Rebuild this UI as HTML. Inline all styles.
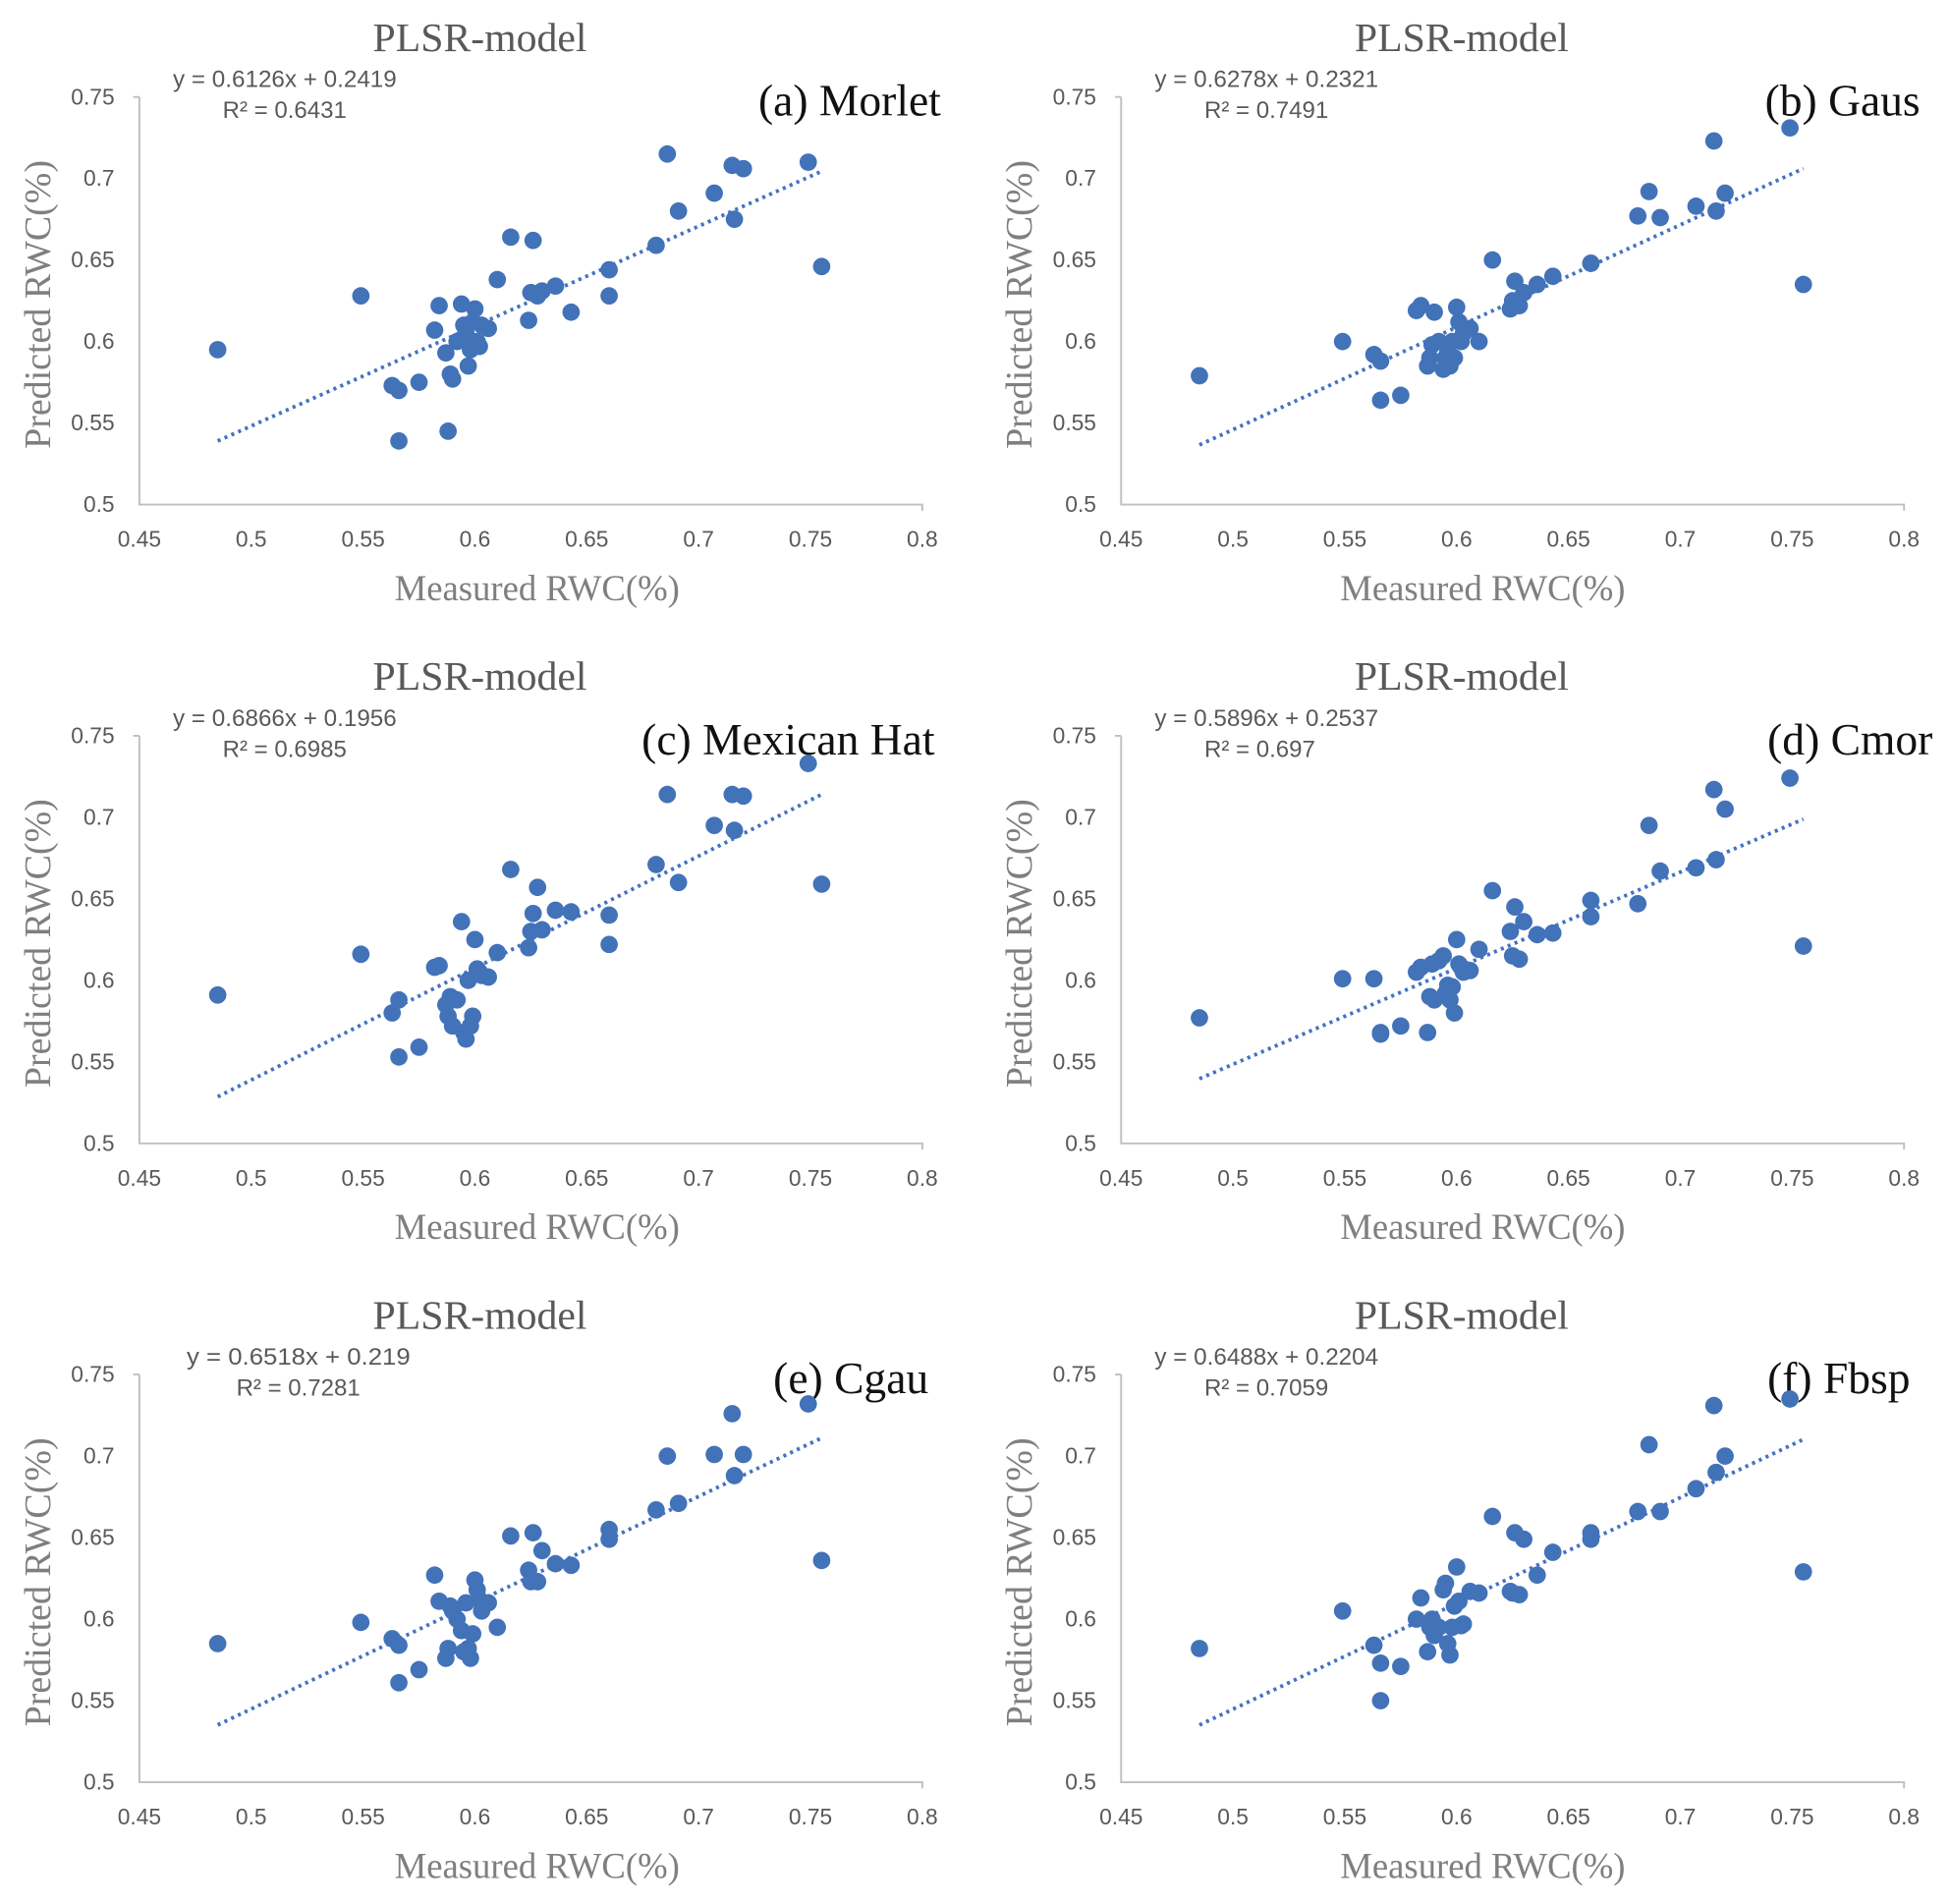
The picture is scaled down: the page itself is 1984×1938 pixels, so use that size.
<!DOCTYPE html>
<html><head><meta charset="utf-8"><style>
html,body{margin:0;padding:0;background:#fff;}
svg{display:block;}
</style></head><body>
<svg id="chart" width="1984" height="1938" viewBox="0 0 1568 1532" xmlns="http://www.w3.org/2000/svg"></svg>
<script>
const measuredX = [0.485,0.549,0.563,0.566,0.566,0.575,0.582,0.584,0.587,0.588,0.589,0.590,0.592,0.594,0.595,0.596,0.597,0.598,0.599,0.600,0.601,0.602,0.603,0.606,0.610,0.616,0.624,0.625,0.626,0.628,0.630,0.636,0.643,0.660,0.660,0.681,0.686,0.691,0.707,0.715,0.716,0.720,0.749,0.755];
const predMorlet = [0.595,0.628,0.573,0.570,0.539,0.575,0.607,0.622,0.593,0.545,0.580,0.577,0.600,0.623,0.610,0.605,0.585,0.595,0.612,0.620,0.600,0.597,0.610,0.608,0.638,0.664,0.613,0.630,0.662,0.628,0.631,0.634,0.618,0.644,0.628,0.659,0.715,0.680,0.691,0.708,0.675,0.706,0.710,0.646];
const predGaus = [0.579,0.600,0.592,0.588,0.564,0.567,0.619,0.622,0.585,0.590,0.598,0.618,0.600,0.583,0.590,0.593,0.585,0.600,0.590,0.621,0.612,0.600,0.605,0.608,0.600,0.650,0.620,0.625,0.637,0.622,0.630,0.635,0.640,0.648,0.648,0.677,0.692,0.676,0.683,0.723,0.680,0.691,0.731,0.635];
const predMexHat = [0.591,0.616,0.580,0.588,0.553,0.559,0.608,0.609,0.585,0.578,0.590,0.572,0.588,0.636,0.568,0.564,0.600,0.572,0.578,0.625,0.607,0.605,0.603,0.602,0.617,0.668,0.620,0.630,0.641,0.657,0.631,0.643,0.642,0.640,0.622,0.671,0.714,0.660,0.695,0.714,0.692,0.713,0.733,0.659];
const predCmor = [0.577,0.601,0.601,0.568,0.567,0.572,0.605,0.608,0.568,0.590,0.610,0.588,0.612,0.615,0.592,0.597,0.588,0.596,0.580,0.625,0.610,0.608,0.605,0.606,0.619,0.655,0.630,0.615,0.645,0.613,0.636,0.628,0.629,0.649,0.639,0.647,0.695,0.667,0.669,0.717,0.674,0.705,0.724,0.621];
const predCgau = [0.585,0.598,0.588,0.584,0.561,0.569,0.627,0.611,0.576,0.582,0.608,0.605,0.600,0.593,0.580,0.610,0.582,0.576,0.591,0.624,0.618,0.612,0.605,0.610,0.595,0.651,0.630,0.623,0.653,0.623,0.642,0.634,0.633,0.655,0.649,0.667,0.700,0.671,0.701,0.726,0.688,0.701,0.732,0.636];
const predFbsp = [0.582,0.605,0.584,0.573,0.550,0.571,0.600,0.613,0.580,0.595,0.600,0.590,0.595,0.618,0.622,0.585,0.578,0.595,0.608,0.632,0.611,0.596,0.597,0.617,0.616,0.663,0.617,0.616,0.653,0.615,0.649,0.627,0.641,0.653,0.649,0.666,0.707,0.666,0.680,0.731,0.690,0.700,0.735,0.629];
const panelLabels = ["(a) Morlet","(b) Gaus","(c) Mexican Hat","(d) Cmor","(e) Cgau","(f) Fbsp"];
const slopes = [0.6126,0.6278,0.6866,0.5896,0.6518,0.6488];
const intercepts = [0.2419,0.2321,0.1956,0.2537,0.219,0.2204];
const r2Labels = ["0.6431","0.7491","0.6985","0.697","0.7281","0.7059"];
const xTicks = [0.45,0.5,0.55,0.6,0.65,0.7,0.75,0.8];
const yTicks = [0.5,0.55,0.6,0.65,0.7,0.75];
const preds = [predMorlet,predGaus,predMexHat,predCmor,predCgau,predFbsp];

const NS="http://www.w3.org/2000/svg";
const svg=document.getElementById('chart');
function mk(tag,attrs,parent){const e=document.createElementNS(NS,tag);for(const k in attrs)e.setAttribute(k,attrs[k]);(parent||svg).appendChild(e);return e;}
const W=630,H=328;
const origins=[[112,406],[902,406],[112,920],[902,920],[112,1434],[902,1434]];
const labelRight=[757,1545,752,1555,747,1537];
const eqOffset=[27,27,27,27,38,27];
preds.forEach((ys,i)=>{
  const [ox,oy]=origins[i];
  const g=mk('g',{});
  
  
  const sx=v=>ox+(v-0.45)/0.35*W;
  const sy=v=>oy-(v-0.5)/0.25*H;
  const ax=mk('path',{d:`M${ox} ${oy-H}H${ox-5}M${ox} ${oy-H}V${oy}H${ox+W}V${oy+5}`,stroke:'#bfbfbf','stroke-width':1.5,fill:'none'},g);
  
  
  xTicks.forEach(t=>{
    const tx=mk('text',{x:sx(t),y:oy+34,'text-anchor':'middle','font-family':'Liberation Sans, sans-serif','font-size':18,fill:'#595959'},g);
    tx.textContent=String(t);
    
    
  });
  yTicks.forEach(t=>{
    const ty=mk('text',{x:ox-20,y:sy(t)+6,'text-anchor':'end','font-family':'Liberation Sans, sans-serif','font-size':18,fill:'#595959'},g);
    ty.textContent=String(t);
    
    
  });
  const tl=mk('text',{x:ox+274,y:oy-H-37,'text-anchor':'middle','font-family':'Liberation Serif, serif','font-size':33,fill:'#595959'},g);
  tl.textContent='PLSR-model';
  
  
  const pl=mk('text',{x:labelRight[i],y:oy-H+15,'text-anchor':'end','font-family':'Liberation Serif, serif','font-size':36,fill:'#111'},g);
  pl.textContent=panelLabels[i];
  
  
  const eq=mk('text',{x:ox+eqOffset[i],y:oy-H-8,'font-family':'Liberation Sans, sans-serif','font-size':19,fill:'#595959',textLength:180,lengthAdjust:'spacingAndGlyphs'},g);
  eq.textContent='y = '+slopes[i]+'x + '+intercepts[i];
  
  
  const r2=mk('text',{x:ox+eqOffset[i]+40,y:oy-H+17,'font-family':'Liberation Sans, sans-serif','font-size':19,fill:'#595959'},g);
  r2.textContent='R² = '+r2Labels[i];
  
  
  const xtx = (i%2===0) ? ox+320 : ox+291;
  const xt=mk('text',{x:xtx,y:oy+77,'text-anchor':'middle','font-family':'Liberation Serif, serif','font-size':29,fill:'#7f7f7f'},g);
  xt.textContent='Measured RWC(%)';
  
  
  const yx=ox-72,yy=oy-H/2+3;
  const yt=mk('text',{x:yx,y:yy,'text-anchor':'middle','font-family':'Liberation Serif, serif','font-size':30,fill:'#7f7f7f',transform:`rotate(-90 ${yx} ${yy})`},g);
  yt.textContent='Predicted  RWC(%)';
  
  
  const xa=0.485,xb=0.755;
  const tr=mk('line',{x1:sx(xa),y1:sy(slopes[i]*xa+intercepts[i]),x2:sx(xb),y2:sy(slopes[i]*xb+intercepts[i]),stroke:'#4472c4','stroke-width':3,'stroke-dasharray':'2.5 3.5'},g);
  
  
  ys.forEach((v,j)=>{
    const c=mk('circle',{cx:sx(measuredX[j]),cy:sy(v),r:7,fill:'#4272b8'},g);
    
    
  });
});
</script>
</body></html>
